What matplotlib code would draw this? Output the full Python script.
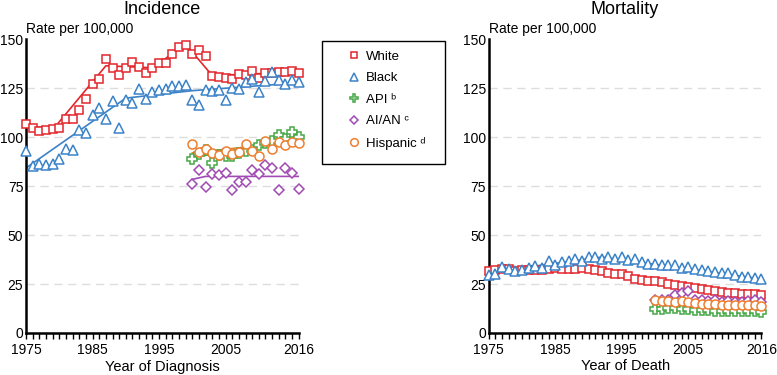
import matplotlib
matplotlib.use('Agg')
import matplotlib.pyplot as plt
from matplotlib.lines import Line2D
from matplotlib.patches import Rectangle
import numpy as np

plt.rcParams['font.family'] = ['Liberation Sans', 'DejaVu Sans']

years_all = list(range(1975, 2017))
years_recent = list(range(2000, 2017))

# incidence (observed)
inc_white = [107, 104.8, 103, 103.6, 104, 104.8, 109.4, 109.4, 113.8, 119.3,
             127.1, 130, 139.8, 135.5, 132, 135.5, 138.6, 136, 133, 135.2,
             137.7, 138, 142.3, 145.9, 147.1, 142.3, 144.5, 141.5, 131.2, 130.9,
             130.2, 130, 132.3, 131.7, 133.6, 130.2, 132.9, 132.9, 133.3, 133.3,
             133.8, 132.8]
inc_black = [93, 85.3, 86.5, 86, 86.5, 89, 93.9, 93.3, 103.6, 102.4,
             111.3, 115, 109.4, 118.6, 104.8, 118.8, 117.6, 124.4, 119.5, 122.9,
             124, 124.4, 126.1, 126.1, 126.5, 118.9, 116.4, 124, 123.7, 124,
             118.9, 125.3, 124.7, 128.3, 129.9, 123.2, 128.8, 133.4, 129.2, 127,
             129.2, 128]
inc_api = [88.7, 91.6, 93.6, 86.8, 91, 90.4, 90.5, 92, 92.9, 93.6,
           96, 97.3, 98, 101.4, 99.2, 102.5, 100.3]
inc_aian = [76, 83.1, 74.7, 81.4, 80.9, 81.9, 73, 76.9, 77.2, 83.1,
            81.4, 86, 84.3, 73, 84.3, 81.9, 73.5]
inc_hisp = [96.3, 92.4, 93.8, 92, 91, 93.2, 91.6, 92.4, 96.3, 93.2,
            90.2, 98, 94.1, 97.8, 96.1, 97.5, 97]

# incidence (joinpoint fit, vertices)
inc_white_fit_x = [1975, 1979, 1987, 1994, 1999, 2003, 2016]
inc_white_fit_y = [106.5, 103.8, 136.5, 135.5, 147.5, 131.5, 133.3]
inc_black_fit_x = [1975, 1990, 2000, 2016]
inc_black_fit_y = [84.3, 120.0, 123.8, 127.8]
inc_api_fit_x = [2000, 2016]
inc_api_fit_y = [89.5, 99.5]
inc_aian_fit_x = [2000, 2002, 2016]
inc_aian_fit_y = [78.5, 80, 80]
inc_hisp_fit_x = [2000, 2016]
inc_hisp_fit_y = [92, 98]

# mortality (observed)
mor_white = [31.9, 32.4, 32.9, 32.7, 31.5, 32.4, 32.4, 32.4, 32.4, 32.9,
             33.2, 32.9, 32.7, 32.7, 33.2, 32.9, 32, 31.5, 30.8, 30.3,
             30.2, 29.3, 27.8, 26.9, 26.7, 26.4, 25.9, 25.2, 24.7, 23.9,
             23.5, 23, 22.5, 22.1, 21.6, 21, 20.6, 20.4, 20.1, 20.1,
             19.9, 19.4]
mor_black = [29.8, 30.3, 33.7, 32.7, 31.5, 32, 33.2, 34.4, 33.2, 36.6,
             34.9, 36.1, 37, 38, 37, 38.8, 38.8, 37.8, 38.8, 38,
             38.8, 37.5, 37.8, 36.1, 35.4, 35.3, 34.9, 34.6, 34.6, 33.2,
             33.7, 32.7, 32.4, 31.5, 31.2, 30.7, 30.7, 29.8, 28.6, 28.4,
             28.1, 27.8]
mor_api = [12.3, 12.5, 12.8, 12.8, 12.5, 12.5, 11.9, 11.6, 11.6, 11.4,
           11.4, 11.4, 11.4, 11.4, 11.4, 11.1, 10.6]
mor_aian = [17.1, 16.7, 17.1, 19.6, 20.5, 21.3, 17.1, 16.7, 16.6, 16.7,
            15.9, 16.2, 15.9, 15.7, 16.2, 16.7, 15.9]
mor_hisp = [17.1, 16.2, 16.2, 15.7, 16.2, 15.7, 15.4, 15, 15, 14.8,
            14.5, 14.5, 14.2, 14.5, 14.2, 14.2, 14]

mor_white_fit_x = [1975, 1990, 2000, 2016]
mor_white_fit_y = [32, 33, 26.5, 19.5]
mor_black_fit_x = [1975, 1992, 2016]
mor_black_fit_y = [31, 38.8, 27.6]
mor_api_fit_x = [2000, 2016]
mor_api_fit_y = [12.6, 11]
mor_aian_fit_x = [2000, 2016]
mor_aian_fit_y = [18, 15.8]
mor_hisp_fit_x = [2000, 2016]
mor_hisp_fit_y = [16.6, 14]

labels = ['White', 'Black', 'API \u1d47', 'AI/AN \u1d9c', 'Hispanic \u1d48']
colors = ['#E3262B', '#3B82C8', '#45A845', '#A14AB4', '#EE7E30']
markers = ['s', '^', 'P', 'D', 'o']
msizes = [6.0, 6.5, 6.5, 5.5, 6.5]

y_ticks = [0, 25, 50, 75, 100, 125, 150]
x_ticks = [1975, 1985, 1995, 2005, 2016]


def panel(ax, title, xlabel, obs, fits):
    for yv in y_ticks[1:-1]:
        ax.plot([1975, 2016], [yv, yv], color='#DDDDDD', lw=1.0,
                dashes=(6, 4), zorder=0)
    for i, (xs, ys) in enumerate(obs):
        ax.plot(xs, ys, linestyle='none', marker=markers[i], ms=msizes[i],
                mfc='white', mec=colors[i], mew=1.1, zorder=3, clip_on=False)
    for i, (fx, fy) in enumerate(fits):
        ax.plot(fx, fy, color=colors[i], lw=1.2, zorder=2)

    ax.set_xlim(1975, 2016)
    ax.set_ylim(0, 150)
    ax.set_xticks(x_ticks)
    ax.set_xticks(range(1975, 2017), minor=True)
    ax.set_yticks(y_ticks)
    ax.tick_params(axis='x', which='both', direction='out', length=4,
                   width=1, labelsize=10, pad=3)
    ax.tick_params(axis='y', length=0, labelsize=10, pad=2)
    for s in ['top', 'right']:
        ax.spines[s].set_visible(False)
    for s in ['left', 'bottom']:
        ax.spines[s].set_linewidth(1.8)
    ax.set_xlabel(xlabel, fontsize=10.5, labelpad=2)
    ax.text(0, 1.012, 'Rate per 100,000', transform=ax.transAxes,
            fontsize=10, ha='left', va='bottom')
    ax.set_title(title, fontsize=13, pad=18)


fig = plt.figure(figsize=(7.77, 3.75), dpi=100)
ax1 = fig.add_axes([0.0335, 0.112, 0.351, 0.783])
ax2 = fig.add_axes([0.629, 0.112, 0.351, 0.783])

panel(ax1, 'Incidence', 'Year of Diagnosis',
      [(years_all, inc_white), (years_all, inc_black), (years_recent, inc_api),
       (years_recent, inc_aian), (years_recent, inc_hisp)],
      [(inc_white_fit_x, inc_white_fit_y), (inc_black_fit_x, inc_black_fit_y),
       (inc_api_fit_x, inc_api_fit_y), (inc_aian_fit_x, inc_aian_fit_y),
       (inc_hisp_fit_x, inc_hisp_fit_y)])

panel(ax2, 'Mortality', 'Year of Death',
      [(years_all, mor_white), (years_all, mor_black), (years_recent, mor_api),
       (years_recent, mor_aian), (years_recent, mor_hisp)],
      [(mor_white_fit_x, mor_white_fit_y), (mor_black_fit_x, mor_black_fit_y),
       (mor_api_fit_x, mor_api_fit_y), (mor_aian_fit_x, mor_aian_fit_y),
       (mor_hisp_fit_x, mor_hisp_fit_y)])

# legend box (frame drawn separately so it can be taller than the entries)
fig.patches.append(Rectangle((0.4145, 0.563), 0.158, 0.328,
                             transform=fig.transFigure, fill=False,
                             edgecolor='black', lw=1.0))
handles = [Line2D([], [], linestyle='none', marker=markers[i], ms=msizes[i] - 1,
                  mfc='white', mec=colors[i], mew=1.1) for i in range(5)]
leg = fig.legend(handles, labels, loc='upper left',
                 bbox_to_anchor=(0.4274, 0.891), fontsize=9.5, frameon=False,
                 handlelength=1.82, handletextpad=0.0, labelspacing=0.70,
                 borderpad=0.75, borderaxespad=0)

plt.savefig('out.png', dpi=100)
